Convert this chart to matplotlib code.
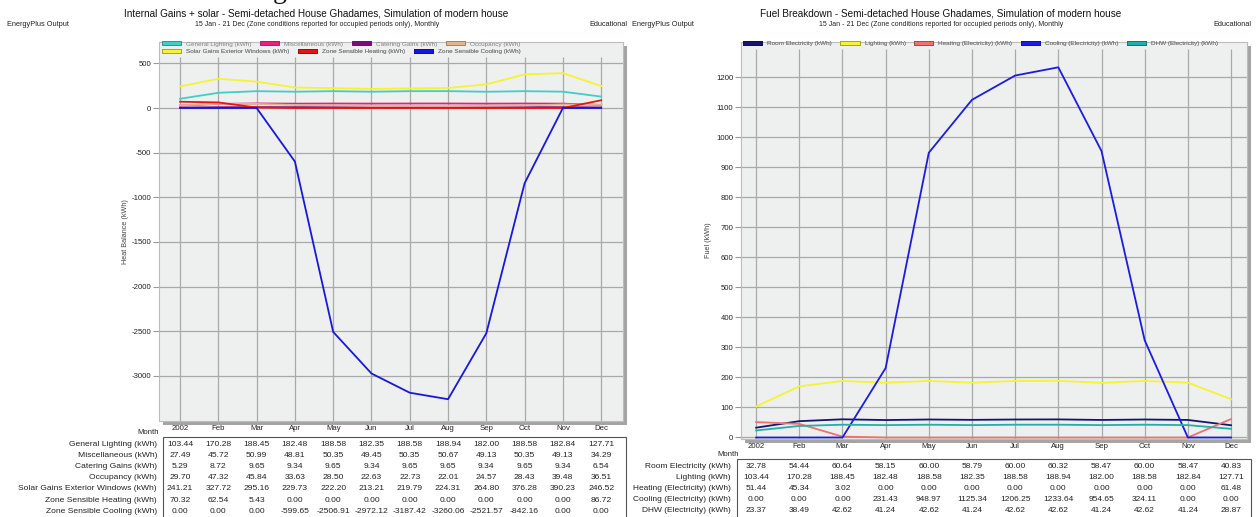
import matplotlib
matplotlib.use('Agg')
import matplotlib.pyplot as plt
import matplotlib.patches as mpatches
import matplotlib.transforms as mtransforms
from matplotlib.colors import to_rgb

plt.rcParams['font.family'] = ['Liberation Sans', 'DejaVu Sans']

W, H = 1258, 517

months = ['2002', 'Feb', 'Mar', 'Apr', 'May', 'Jun', 'Jul', 'Aug', 'Sep', 'Oct', 'Nov', 'Dec']

# Internal gains + solar, kWh per month
general_lighting = [103.44, 170.28, 188.45, 182.48, 188.58, 182.35, 188.58, 188.94, 182.00, 188.58, 182.84, 127.71]
miscellaneous = [27.49, 45.72, 50.99, 48.81, 50.35, 49.45, 50.35, 50.67, 49.13, 50.35, 49.13, 34.29]
catering_gains = [5.29, 8.72, 9.65, 9.34, 9.65, 9.34, 9.65, 9.65, 9.34, 9.65, 9.34, 6.54]
occupancy = [29.70, 47.32, 45.84, 33.63, 28.50, 22.63, 22.73, 22.01, 24.57, 28.43, 39.48, 36.51]
solar_gains = [241.21, 327.72, 295.16, 229.73, 222.20, 213.21, 219.79, 224.31, 264.80, 376.28, 390.23, 246.52]
zone_heating = [70.32, 62.54, 5.43, 0.00, 0.00, 0.00, 0.00, 0.00, 0.00, 0.00, 0.00, 86.72]
zone_cooling = [0.00, 0.00, 0.00, -599.65, -2506.91, -2972.12, -3187.42, -3260.06, -2521.57, -842.16, 0.00, 0.00]

gains_labels = ['General Lighting (kWh)', 'Miscellaneous (kWh)', 'Catering Gains (kWh)', 'Occupancy (kWh)',
                'Solar Gains Exterior Windows (kWh)', 'Zone Sensible Heating (kWh)', 'Zone Sensible Cooling (kWh)']
gains_colors = ['#3fcfc6', '#e8207c', '#7c0a7c', '#e2b590', '#f4f430', '#e81414', '#1818d8']

# Fuel breakdown, kWh per month
room_electricity = [32.78, 54.44, 60.64, 58.15, 60.00, 58.79, 60.00, 60.32, 58.47, 60.00, 58.47, 40.83]
lighting = [103.44, 170.28, 188.45, 182.48, 188.58, 182.35, 188.58, 188.94, 182.00, 188.58, 182.84, 127.71]
heating_elec = [51.44, 45.34, 3.02, 0.00, 0.00, 0.00, 0.00, 0.00, 0.00, 0.00, 0.00, 61.48]
cooling_elec = [0.00, 0.00, 0.00, 231.43, 948.97, 1125.34, 1206.25, 1233.64, 954.65, 324.11, 0.00, 0.00]
dhw_elec = [23.37, 38.49, 42.62, 41.24, 42.62, 41.24, 42.62, 42.62, 41.24, 42.62, 41.24, 28.87]

fuel_labels = ['Room Electricity (kWh)', 'Lighting (kWh)', 'Heating (Electricity) (kWh)',
               'Cooling (Electricity) (kWh)', 'DHW (Electricity) (kWh)']
fuel_colors = ['#15156e', '#f4f430', '#ee7070', '#1c1cdc', '#1fb0a8']

gains_series = [general_lighting, miscellaneous, catering_gains, occupancy,
                solar_gains, zone_heating, zone_cooling]
fuel_series = [room_electricity, lighting, heating_elec, cooling_elec, dhw_elec]

FACE = '#eeefef'
GRID = '#a9a9a9'
TXT = '#222222'


def fx(px):
    return px / W


def fy(py):
    return 1 - py / H


def darker(c, k=0.65):
    r, g, b = to_rgb(c)
    return (r * k, g * k, b * k)


def panel(fig, left, right, top, bottom, ylim, xlim, yticks, grid_top):
    rect = [fx(left), fy(bottom), fx(right - left), (bottom - top) / H]
    # grey drop shadow offset below/right of the plot area
    fig.patches.append(mpatches.Rectangle((fx(left + 4), fy(bottom + 4)), fx(right - left), (bottom - top) / H,
                                          transform=fig.transFigure, facecolor='#a4a4a4',
                                          edgecolor='none', zorder=-1))
    ax = fig.add_axes(rect)
    ax.set_facecolor(FACE)
    ax.set_xlim(*xlim)
    ax.set_ylim(*ylim)
    ax.set_yticks(yticks)
    ax.set_yticklabels([str(t) for t in yticks])
    ax.set_xticks(range(len(months)))
    ax.set_xticklabels(months)
    ax.tick_params(axis='y', length=4, color='#999999', width=0.8, pad=1.5, labelsize=5.6, labelcolor=TXT)
    ax.tick_params(axis='x', length=0, pad=3, labelsize=5.6, labelcolor=TXT)
    ax.grid(axis='y', color=GRID, lw=0.9)
    ax.vlines(range(len(months)), 0, grid_top, transform=ax.get_xaxis_transform(),
              color=GRID, lw=0.9, zorder=0.5)
    ax.set_axisbelow(True)
    for s in ax.spines.values():
        s.set_color('#bcbcbc')
        s.set_linewidth(0.8)
    return ax


def legend_row(ax, labels, colors, anchor):
    handles = [mpatches.Patch(facecolor=c, edgecolor=darker(c), lw=0.6) for c in colors]
    leg = ax.legend(handles, labels, loc='upper left', bbox_to_anchor=anchor, ncol=len(labels),
                    frameon=False, fontsize=4.6, labelcolor='#808080', borderpad=0, borderaxespad=0,
                    handlelength=3.0, handleheight=0.6, handletextpad=0.8, columnspacing=1.3)
    ax.add_artist(leg)
    return leg


def table(fig, ax, labels, series, label_right, row0, box_left, box_right, box_top, size):
    tr = mtransforms.blended_transform_factory(ax.transData, fig.transFigure)
    for i, (lab, vals) in enumerate(zip(labels, series)):
        y = fy(row0 + i * 11.2)
        fig.text(fx(label_right), y, lab, ha='right', va='center', fontsize=size, color=TXT)
        for m, v in enumerate(vals):
            ax.text(m, y, f'{v:.2f}', transform=tr, ha='center', va='center',
                    fontsize=size, color=TXT, clip_on=False)
    fig.patches.append(mpatches.Rectangle((fx(box_left), -0.05), fx(box_right - box_left), fy(box_top) + 0.05,
                                          transform=fig.transFigure, fill=False,
                                          edgecolor='#555555', lw=0.8))


fig = plt.figure(figsize=(W / 100, H / 100), dpi=100)
fig.patch.set_facecolor('white')

# ---------------- left panel: heat balance ----------------
ax1 = panel(fig, 159, 623, 42, 421, (-3504, 739), (-0.55, 11.57), list(range(-3000, 501, 500)), 0.96)
for vals, c in zip(gains_series, gains_colors):
    ax1.plot(range(len(months)), vals, color=c, lw=1.3, zorder=2)
ax1.set_ylabel('Heat Balance (kWh)', fontsize=5.2, color='#444444')
ax1.yaxis.set_label_coords(-0.065, 0.5)
legend_row(ax1, gains_labels[:4], gains_colors[:4], (0.0065, 1.002))
legend_row(ax1, gains_labels[4:], gains_colors[4:], (0.0065, 0.981))
fig.text(fx(148), fy(433), 'Month', ha='center', va='center', fontsize=5.6, color=TXT)
table(fig, ax1, gains_labels, gains_series, 157, 444, 163, 626, 437, 6.1)

fig.text(fx(316), fy(14), 'Internal Gains + solar - Semi-detached House Ghadames, Simulation of modern house',
         ha='center', va='center', fontsize=7.2, color='#111111')
fig.text(fx(317), fy(25), '15 Jan - 21 Dec (Zone conditions reported for occupied periods only), Monthly',
         ha='center', va='center', fontsize=5.0, color='#222222')
fig.text(fx(7), fy(25), 'EnergyPlus Output', ha='left', va='center', fontsize=5.3, color='#222222')
fig.text(fx(627), fy(25), 'Educational', ha='right', va='center', fontsize=5.3, color='#222222')

# ---------------- right panel: fuel breakdown ----------------
ax2 = panel(fig, 741, 1247, 42, 439, (-5, 1318), (-0.35, 11.37), list(range(0, 1201, 100)), 0.982)
for vals, c in zip(fuel_series, fuel_colors):
    ax2.plot(range(len(months)), vals, color=c, lw=1.3, zorder=2)
ax2.set_ylabel('Fuel (kWh)', fontsize=5.2, color='#444444')
ax2.yaxis.set_label_coords(-0.057, 0.5)
legend_row(ax2, fuel_labels, fuel_colors, (0.004, 1.002))
fig.text(fx(728), fy(454), 'Month', ha='center', va='center', fontsize=5.6, color=TXT)
table(fig, ax2, fuel_labels, fuel_series, 731, 466, 737, 1251, 459, 6.0)

fig.text(fx(941), fy(14), 'Fuel Breakdown - Semi-detached House Ghadames, Simulation of modern house',
         ha='center', va='center', fontsize=7.2, color='#111111')
fig.text(fx(941), fy(25), '15 Jan - 21 Dec (Zone conditions reported for occupied periods only), Monthly',
         ha='center', va='center', fontsize=5.0, color='#222222')
fig.text(fx(632), fy(25), 'EnergyPlus Output', ha='left', va='center', fontsize=5.3, color='#222222')
fig.text(fx(1251), fy(25), 'Educational', ha='right', va='center', fontsize=5.3, color='#222222')

# descender of a heading line cut off by the top edge
fig.text(fx(280), 1 + 1.5 / H, 'g', ha='center', va='baseline', fontsize=20,
         family='Liberation Serif', color='#111111')

fig.savefig('out.png', dpi=100, facecolor='white')
